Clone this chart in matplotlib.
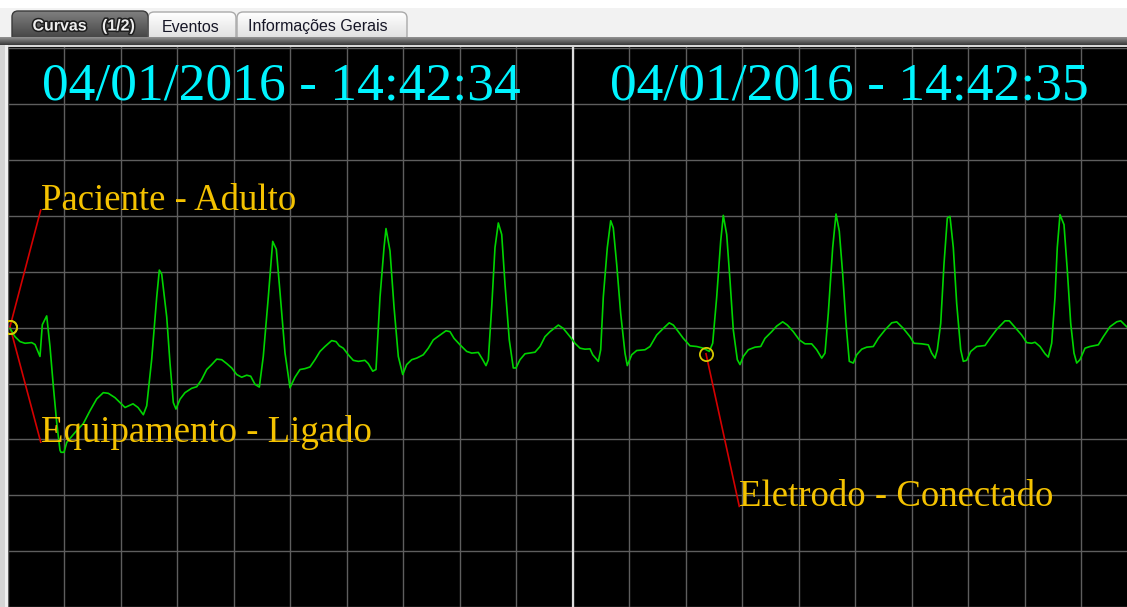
import numpy as np
import matplotlib
matplotlib.use("Agg")
import matplotlib.pyplot as plt
from matplotlib.patches import FancyBboxPatch, Rectangle
import matplotlib.patheffects as pe

# ---------------- data ----------------
t_sec = [0.0044, 0.0133, 0.0221, 0.0310, 0.0428, 0.0487, 0.0575, 0.0616, 0.0694, 0.0752,
         0.0811, 0.0871, 0.0929, 0.0947, 0.1000, 0.1048, 0.1106, 0.1225, 0.1342, 0.1460,
         0.1579, 0.1696, 0.1784, 0.1903, 0.1991, 0.2080, 0.2221, 0.2310, 0.2404, 0.2464,
         0.2552, 0.2641, 0.2687, 0.2729, 0.2818, 0.2876, 0.2935, 0.2982, 0.3053, 0.3142,
         0.3260, 0.3349, 0.3437, 0.3526, 0.3614, 0.3703, 0.3791, 0.3880, 0.3968, 0.4057,
         0.4145, 0.4234, 0.4304, 0.4381, 0.4457, 0.4527, 0.4616, 0.4694, 0.4758, 0.4823,
         0.4912, 0.5000, 0.5088, 0.5177, 0.5265, 0.5354, 0.5442, 0.5531, 0.5619, 0.5738,
         0.5814, 0.5873, 0.5943, 0.6032, 0.6120, 0.6209, 0.6327, 0.6386, 0.6464, 0.6522,
         0.6593, 0.6664, 0.6699, 0.6770, 0.6841, 0.6917, 0.6995, 0.7065, 0.7154, 0.7242,
         0.7359, 0.7448, 0.7536, 0.7655, 0.7761, 0.7832, 0.7903, 0.8009, 0.8127, 0.8216,
         0.8333, 0.8411, 0.8469, 0.8510, 0.8570, 0.8628, 0.8687, 0.8747, 0.8805, 0.8881,
         0.8952, 0.9000, 0.9071, 0.9159, 0.9336, 0.9425, 0.9513, 0.9602, 0.9749, 0.9837,
         0.9956, 1.0044, 1.0133, 1.0221, 1.0310, 1.0358, 1.0457, 1.0499, 1.0545, 1.0616,
         1.0676, 1.0722, 1.0782, 1.0853, 1.0929, 1.0970, 1.1048, 1.1136, 1.1283, 1.1372,
         1.1490, 1.1607, 1.1712, 1.1784, 1.1873, 1.1961, 1.2080, 1.2198, 1.2315, 1.2421,
         1.2481, 1.2552, 1.2623, 1.2669, 1.2729, 1.2788, 1.2846, 1.2917, 1.2965, 1.3023,
         1.3112, 1.3230, 1.3331, 1.3407, 1.3526, 1.3614, 1.3720, 1.3802, 1.3908, 1.4014,
         1.4115, 1.4233, 1.4322, 1.4411, 1.4469, 1.4527, 1.4605, 1.4664, 1.4722, 1.4782,
         1.4841, 1.4899, 1.4970, 1.5030, 1.5119, 1.5207, 1.5324, 1.5412, 1.5531, 1.5650,
         1.5738, 1.5855, 1.5973, 1.6044, 1.6181, 1.6297, 1.6357, 1.6416, 1.6457, 1.6517,
         1.6575, 1.6634, 1.6681, 1.6740, 1.6800, 1.6871, 1.6917, 1.6977, 1.7048, 1.7154,
         1.7301, 1.7389, 1.7508, 1.7655, 1.7731, 1.7832, 1.7950, 1.8039, 1.8127, 1.8186,
         1.8274, 1.8363, 1.8421, 1.8481, 1.8540, 1.8580, 1.8628, 1.8699, 1.8758, 1.8818,
         1.8876, 1.8924, 1.8982, 1.9071, 1.9159, 1.9306, 1.9395, 1.9513, 1.9632, 1.9703,
         1.9809]

ecg_mv = [-0.006, -0.080, -0.124, -0.139, -0.133, -0.150, -0.257, 0.027, 0.106, -0.168,
          -0.522, -0.850, -1.097, -1.115, -1.115, -1.027, -0.991, -0.920, -0.858, -0.743,
          -0.637, -0.581, -0.587, -0.626, -0.670, -0.714, -0.681, -0.714, -0.779, -0.699,
          -0.283, 0.274, 0.516, 0.481, 0.097, -0.316, -0.670, -0.728, -0.640, -0.581,
          -0.542, -0.528, -0.463, -0.374, -0.330, -0.281, -0.286, -0.321, -0.360, -0.419,
          -0.443, -0.425, -0.434, -0.507, -0.531, -0.257, 0.274, 0.773, 0.702, 0.319,
          -0.227, -0.537, -0.443, -0.374, -0.366, -0.351, -0.286, -0.212, -0.168, -0.115,
          -0.124, -0.162, -0.183, -0.242, -0.292, -0.301, -0.292, -0.321, -0.389, -0.374,
          0.274, 0.717, 0.888, 0.688, 0.186, -0.257, -0.419, -0.330, -0.286, -0.272,
          -0.242, -0.183, -0.109, -0.065, -0.027, -0.035, -0.095, -0.153, -0.212, -0.227,
          -0.221, -0.286, -0.339, -0.286, 0.186, 0.717, 0.938, 0.835, 0.392, -0.109,
          -0.360, -0.360, -0.286, -0.233, -0.219, -0.168, -0.080, -0.035, 0.024, -0.006,
          -0.080, -0.139, -0.183, -0.192, -0.189, -0.242, -0.301, -0.197, 0.274, 0.717,
          0.958, 0.894, 0.569, 0.127, -0.227, -0.339, -0.242, -0.204, -0.197, -0.168,
          -0.065, -0.006, 0.044, 0.024, -0.035, -0.095, -0.162, -0.168, -0.183, -0.212,
          -0.139, 0.274, 0.776, 1.006, 0.835, 0.422, -0.020, -0.286, -0.330, -0.257,
          -0.197, -0.174, -0.168, -0.095, -0.035, 0.015, 0.053, 0.024, -0.035, -0.109,
          -0.144, -0.144, -0.197, -0.272, -0.227, 0.127, 0.717, 1.018, 0.865, 0.481,
          0.038, -0.301, -0.316, -0.242, -0.192, -0.174, -0.168, -0.095, -0.020, 0.044,
          0.053, -0.006, -0.080, -0.139, -0.144, -0.153, -0.227, -0.272, -0.197, 0.038,
          0.569, 0.982, 0.997, 0.717, 0.215, -0.197, -0.301, -0.292, -0.212, -0.168,
          -0.159, -0.095, -0.015, 0.062, 0.062, 0.003, -0.065, -0.133, -0.139, -0.130,
          -0.168, -0.233, -0.263, -0.139, 0.274, 0.717, 1.012, 0.923, 0.511, 0.038,
          -0.227, -0.316, -0.286, -0.183, -0.168, -0.153, -0.080, 0.009, 0.053, 0.062,
          0.009]

time_labels = ["04/01/2016 - 14:42:34", "04/01/2016 - 14:42:35"]
time_label_t = [0.061, 1.066]
time_label_v = 2.044
second_mark_t = 1.0

event_names = ["Paciente - Adulto", "Equipamento - Ligado", "Eletrodo - Conectado"]
event_t = [0.0044, 0.0044, 1.2363]
event_v = [0.009, 0.009, -0.233]
event_text_t = [0.0588, 0.0588, 1.2952]
event_text_v = [1.054, -1.024, -1.599]

tab_names = ["Curvas", "(1/2)", "Eventos", "Informações Gerais"]

# ---------------- figure ----------------
W, H = 1127, 607
fig = plt.figure(figsize=(W / 100, H / 100), dpi=100)
fig.patch.set_facecolor("white")

hdr = fig.add_axes([0, 0, 1, 1], zorder=0)
hdr.axis("off")


def vgrad(ax, x0, x1, y0, y1, c_top, c_bot, clip=None, z=1):
    a = np.linspace(0, 1, 64)[:, None, None]
    cols = (1 - a) * np.array(c_top) + a * np.array(c_bot)
    cols = np.repeat(cols, 2, axis=1)
    im = ax.imshow(cols, extent=(x0, x1, y1, y0), aspect="auto",
                   interpolation="bilinear", zorder=z)
    if clip is not None:
        im.set_clip_path(clip)
    return im


# background strip behind tabs
hdr.add_patch(Rectangle((0, 8), W, 30, facecolor="#f2f2f2", edgecolor="none", zorder=0.5))

# inactive tabs
for (x0, x1) in [(148, 236), (237, 407)]:
    p = FancyBboxPatch((x0, 12), x1 - x0, 30, boxstyle="round,pad=0,rounding_size=6",
                       facecolor="none", edgecolor="#a9a9a9", lw=1.0, zorder=2)
    hdr.add_patch(p)
    vgrad(hdr, x0, x1, 12, 42, (1, 1, 1), (0.86, 0.86, 0.86), clip=p, z=1.5)

# active tab
p = FancyBboxPatch((12, 11), 136, 31, boxstyle="round,pad=0,rounding_size=6",
                   facecolor="none", edgecolor="#3a3a3a", lw=1.0, zorder=2)
hdr.add_patch(p)
vgrad(hdr, 12, 148, 11, 42, (0.50, 0.50, 0.50), (0.24, 0.24, 0.24), clip=p, z=1.5)

# dark band under tabs
vgrad(hdr, 0, W, 37, 45, (0.58, 0.58, 0.58), (0.22, 0.22, 0.22), z=3)
hdr.add_patch(Rectangle((0, 45), W, 2.5, facecolor="#d8d8d8", edgecolor="none", zorder=3))
# left border strip
hdr.add_patch(Rectangle((0, 45), 5, H - 45, facecolor="#d4d4d4", edgecolor="none", zorder=3))
hdr.add_patch(Rectangle((5, 45), 2.5, H - 45, facecolor="#efefef", edgecolor="none", zorder=3))

# tab texts
sans = ["Liberation Sans", "DejaVu Sans"]
stroke = [pe.withStroke(linewidth=2.2, foreground="#1e1e1e")]
hdr.text(32.5, 30.5, tab_names[0], family=sans, fontsize=11.5, fontweight="bold",
         color="#eeeeee", va="baseline", ha="left", zorder=4, path_effects=stroke)
hdr.text(102, 30.5, tab_names[1], family=sans, fontsize=11.5, fontweight="bold",
         color="#eeeeee", va="baseline", ha="left", zorder=4, path_effects=stroke)
hdr.text(162, 31.5, tab_names[2], family=sans, fontsize=11.5,
         color="#161626", va="baseline", ha="left", zorder=4)
hdr.text(248, 31.5, tab_names[3], family=sans, fontsize=11.5,
         color="#161626", va="baseline", ha="left", zorder=4)

hdr.set_xlim(0, W)
hdr.set_ylim(H, 0)

# ---------------- ECG panel ----------------
ax = fig.add_axes([7.5 / W, 0, (W - 7.5) / W, 560 / H], zorder=5)
ax.set_facecolor("black")
for s in ax.spines.values():
    s.set_visible(False)
ax.set_xlim(0, (W - 7.5) / 565)
ax.set_ylim(-276 / 113, 284 / 113)
ax.set_xticks(np.arange(0, 2.0, 0.1))
ax.set_yticks(np.arange(-2.5, 2.51, 0.5))
ax.tick_params(length=0, labelbottom=False, labelleft=False)
ax.grid(True, color="#5e5e5e", lw=1.0)
ax.set_axisbelow(True)

ax.axvline(second_mark_t, color="#dcdcdc", lw=1.6, zorder=2)

for et, ev, tt, tv in zip(event_t, event_v, event_text_t, event_text_v):
    ax.plot([et, tt], [ev, tv], color="#d40000", lw=1.2, zorder=3)

ax.plot(t_sec, ecg_mv, color="#00d400", lw=1.2, zorder=4, solid_joinstyle="round")

ax.plot(event_t, event_v, "o", mfc="none", mec="#d8c800", ms=9.5, mew=1.3, zorder=5)

serif = ["Liberation Serif", "DejaVu Serif"]
for name, tt, tv in zip(event_names, event_text_t, event_text_v):
    ax.text(tt, tv, name, family=serif, fontsize=26.5, color="#f4c200",
            ha="left", va="baseline", zorder=6)

for lab, tt in zip(time_labels, time_label_t):
    ax.text(tt, time_label_v, lab, family=serif, fontsize=38.5, color="#00f4ff",
            ha="left", va="baseline", zorder=6)

fig.savefig("out.png", dpi=100, facecolor=fig.get_facecolor())
